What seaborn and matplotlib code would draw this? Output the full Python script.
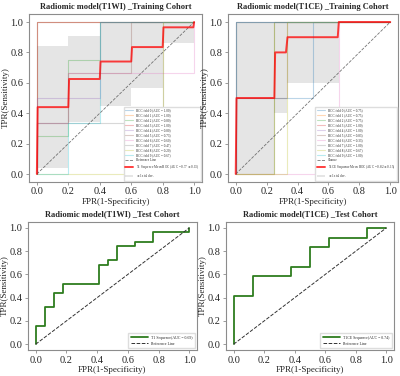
import numpy as np
import pandas as pd
import matplotlib
matplotlib.use("Agg")
import matplotlib.pyplot as plt
import seaborn as sns

sns.set_style("white", {"axes.edgecolor": "#8c8c8c", "xtick.bottom": True, "ytick.left": True})
plt.rcParams['font.family'] = ['Liberation Serif', 'DejaVu Serif']

# ---- Training T1WI: 10 folds (fpr, tpr, auc) ----
t1_folds = [
    ([0, 0, 1], [0, 1, 1], 1.00),
    ([0, 0, 1], [0, 1, 1], 1.00),
    ([0, 0, 0.2, 0.2, 0.4, 0.4, 1], [0, 0.25, 0.25, 0.75, 0.75, 1, 1], 0.80),
    ([0, 0, 1], [0, 1, 1], 1.00),
    ([0, 0, 0.4, 0.4, 1], [0, 0.5, 0.5, 1, 1], 0.80),
    ([0, 0, 0.2, 0.2, 0.6, 0.6, 1], [0, 0.333, 0.333, 0.667, 0.667, 1, 1], 0.73),
    ([0, 0, 0.2, 0.2, 1, 1], [0, 0.333, 0.333, 0.667, 0.667, 1], 0.60),
    ([0, 0, 0.8, 0.8, 1], [0, 0.333, 0.333, 1, 1], 0.47),
    ([0, 0.8, 0.8, 1], [0, 0, 1, 1], 0.20),
    ([0, 0.2, 0.2, 0.4, 0.4, 1], [0, 0, 0.333, 0.333, 1, 1], 0.67),
]
t1_mean_fpr = [0, 0.005, 0.2, 0.205, 0.4, 0.405, 0.6, 0.605, 0.8, 0.805, 0.995, 1.0]
t1_mean_tpr = [0, 0.44, 0.44, 0.625, 0.625, 0.74, 0.74, 0.835, 0.835, 0.965, 0.965, 1.0]
t1_band_x = [0, 0.2, 0.2, 0.4, 0.4, 0.6, 0.6, 0.8, 0.8, 1.0]
t1_band_lo = [0.04, 0.04, 0.34, 0.34, 0.45, 0.45, 0.565, 0.565, 0.865, 0.865]
t1_band_hi = [0.84, 0.84, 0.91, 0.91, 1.0, 1.0, 1.0, 1.0, 1.0, 1.0]
t1_mean_label = r'T1 Sequence Mean ROC (AUC = 0.77 $\pm$ 0.13)'

# ---- Training T1CE ----
t1ce_folds = [
    ([0, 0, 0.5, 0.5, 1], [0, 0.5, 0.5, 1, 1], 0.75),
    ([0, 0.25, 0.25, 1], [0, 0, 1, 1], 0.75),
    ([0, 0.25, 0.25, 1], [0, 0, 1, 1], 0.75),
    ([0, 0, 1], [0, 1, 1], 1.00),
    ([0, 0, 1], [0, 1, 1], 1.00),
    ([0, 0, 0.333, 0.333, 1], [0, 0.5, 0.5, 1, 1], 0.83),
    ([0, 0.667, 0.667, 1], [0, 0, 1, 1], 0.33),
    ([0, 0, 1], [0, 1, 1], 1.00),
    ([0, 0.333, 0.333, 1], [0, 0, 1, 1], 0.67),
    ([0, 0, 1], [0, 1, 1], 1.00),
]
t1ce_mean_fpr = [0, 0.005, 0.25, 0.255, 0.325, 0.335, 0.66, 0.667, 1.0]
t1ce_mean_tpr = [0, 0.5, 0.5, 0.8, 0.8, 0.9, 0.9, 1.0, 1.0]
t1ce_band_x = [0, 0.25, 0.25, 0.33, 0.33, 0.667, 0.667, 1.0]
t1ce_band_lo = [0, 0, 0.4, 0.4, 0.6, 0.6, 1.0, 1.0]
t1ce_band_hi = [1, 1, 1, 1, 1, 1, 1, 1]
t1ce_mean_label = r'T1CE Sequence Mean ROC (AUC = 0.82 $\pm$ 0.15)'

# ---- Test cohort ----
test_t1_fpr = [0, 0, 0.059, 0.059, 0.118, 0.118, 0.176, 0.176, 0.412, 0.412, 0.471, 0.471,
               0.529, 0.529, 0.647, 0.647, 0.765, 0.765, 1.0, 1.0]
test_t1_tpr = [0, 0.16, 0.16, 0.32, 0.32, 0.44, 0.44, 0.52, 0.52, 0.68, 0.68, 0.72,
               0.72, 0.84, 0.84, 0.88, 0.88, 0.96, 0.96, 1.0]
test_t1ce_fpr = [0, 0, 0.125, 0.125, 0.375, 0.375, 0.5, 0.5, 0.625, 0.625, 0.875, 0.875, 1.0]
test_t1ce_tpr = [0, 0.417, 0.417, 0.583, 0.583, 0.667, 0.667, 0.833, 0.833, 0.917, 0.917, 1.0, 1.0]

fold_colors = sns.color_palette("tab10", 10)

fig = plt.figure(figsize=(4.0, 3.76), dpi=100)
ax_tl = fig.add_axes([0.0725, 0.517, 0.4325, 0.4447])
ax_tr = fig.add_axes([0.57, 0.517, 0.425, 0.4447])
ax_bl = fig.add_axes([0.07, 0.0691, 0.4225, 0.3404])
ax_br = fig.add_axes([0.565, 0.0691, 0.42, 0.3404])


def finish(ax, title):
    ax.set_xlim(-0.05, 1.05)
    ax.set_ylim(-0.05, 1.05)
    ax.set_xticks([0, 0.2, 0.4, 0.6, 0.8, 1.0])
    ax.set_yticks([0, 0.2, 0.4, 0.6, 0.8, 1.0])
    ax.tick_params(labelsize=7.5, length=2.5, width=0.6, color='#8c8c8c', pad=1.5)
    ax.set_xlabel('FPR(1-Specificity)', fontsize=6.5, labelpad=1)
    ax.set_ylabel('TPR(Sensitivity)', fontsize=6.5, labelpad=0.5)
    ax.set_title(title, fontsize=6.0, fontweight='bold', pad=4)
    for s in ax.spines.values():
        s.set_linewidth(0.8)


def draw_train(ax, folds, mfpr, mtpr, bx, blo, bhi, mean_label, ref_label, title):
    for i, (fpr, tpr, auc) in enumerate(folds):
        d = pd.DataFrame({'fpr': fpr, 'tpr': tpr})
        sns.lineplot(data=d, x='fpr', y='tpr', sort=False, estimator=None, ax=ax,
                     color=fold_colors[i], lw=0.8, alpha=0.3,
                     label='ROC fold %d (AUC = %.2f)' % (i, auc))
    ax.plot([0, 1], [0, 1], linestyle='--', lw=0.6, color='#555555', alpha=0.8, label=ref_label)
    d = pd.DataFrame({'fpr': mfpr, 'tpr': mtpr})
    sns.lineplot(data=d, x='fpr', y='tpr', sort=False, estimator=None, ax=ax,
                 color='red', lw=1.4, alpha=0.75, label=mean_label)
    ax.fill_between(bx, blo, bhi, color='grey', alpha=0.2, lw=0, label=r'$\pm$ 1 std. dev.')
    finish(ax, title)
    ax.legend(loc='lower right', fontsize=2.3, labelspacing=0.3, handlelength=2.6,
              borderpad=0.5, borderaxespad=0.3, framealpha=1, edgecolor='#dddddd', fancybox=False)


def draw_test(ax, fpr, tpr, label, title):
    d = pd.DataFrame({'fpr': fpr, 'tpr': tpr})
    sns.lineplot(data=d, x='fpr', y='tpr', sort=False, estimator=None, ax=ax,
                 color='#2e7d1f', lw=1.3, label=label)
    ax.plot([0, 1], [0, 1], linestyle='--', lw=0.7, color='#333333', label='Reference Line')
    finish(ax, title)
    ax.legend(loc='lower right', fontsize=2.8, labelspacing=0.5, handlelength=4.5,
              borderpad=0.6, framealpha=1, edgecolor='#dddddd', fancybox=False)


draw_train(ax_tl, t1_folds, t1_mean_fpr, t1_mean_tpr, t1_band_x, t1_band_lo, t1_band_hi,
           t1_mean_label, 'Reference Line', 'Radiomic model(T1WI) _Training Cohort')
draw_train(ax_tr, t1ce_folds, t1ce_mean_fpr, t1ce_mean_tpr, t1ce_band_x, t1ce_band_lo, t1ce_band_hi,
           t1ce_mean_label, 'Chance', 'Radiomic model(T1CE) _Training Cohort')
draw_test(ax_bl, test_t1_fpr, test_t1_tpr, 'T1 Sequence(AUC = 0.69)',
          'Radiomic model(T1WI) _Test Cohort')
draw_test(ax_br, test_t1ce_fpr, test_t1ce_tpr, 'T1CE Sequence(AUC = 0.74)',
          'Radiomic model(T1CE) _Test Cohort')

fig.savefig('out.png', dpi=100)
